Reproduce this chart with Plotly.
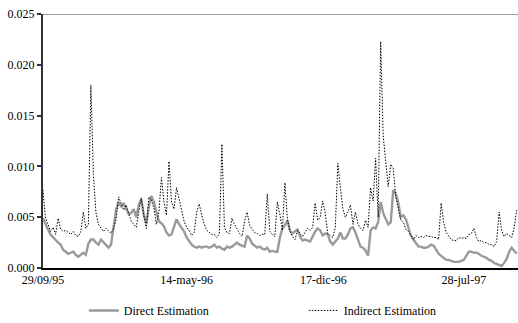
import pandas as pd
import plotly.graph_objects as go

# values in thousandths (x 0.001), sampled every 4 days from 29/09/1995
direct_k = [
    4.9, 4.3, 3.8, 3.3, 3.0, 2.8, 2.5, 2.3, 1.8, 1.6,
    1.4, 1.5, 1.6, 1.3, 1.1, 1.3, 1.5, 1.3, 2.4, 2.8,
    2.8, 2.5, 2.3, 2.8, 2.5, 2.2, 2.0, 2.3, 3.8, 5.7,
    6.5, 6.0, 6.4, 5.8, 5.3, 5.4, 5.8, 5.0, 6.2, 6.8,
    5.2, 4.4, 6.0, 7.1, 6.5, 5.5, 4.6, 4.4, 4.1, 3.5,
    3.2, 3.3, 4.0, 4.8, 4.3, 3.9, 3.6, 3.0, 2.6, 2.3,
    2.1, 2.0, 2.1, 2.0, 2.1, 2.1, 2.0, 2.1, 2.3, 2.0,
    2.1, 1.9, 1.8, 2.1, 2.0, 2.1, 2.3, 2.5, 2.3, 2.2,
    2.1, 3.2, 2.9, 2.4, 2.2, 2.0, 2.1, 1.9, 1.8, 2.0,
    1.6, 1.7, 1.6, 1.6, 3.0, 3.9, 4.2, 4.7, 3.7, 3.4,
    3.6, 3.8, 3.1, 2.7, 2.8, 2.7, 2.6, 3.1, 3.6, 3.9,
    3.7, 3.2, 3.4, 3.3, 2.6, 2.3, 2.6, 2.9, 3.5, 2.9,
    2.9, 3.3, 3.9, 4.0, 3.5, 2.8, 2.1, 2.0, 1.7, 1.2,
    3.7, 4.0, 3.9, 4.5, 6.5, 5.4, 4.9, 4.3, 4.5, 7.7,
    7.3, 6.4, 5.0, 5.2, 4.8, 4.0, 3.2, 2.8, 2.4, 2.1,
    2.1, 2.0, 2.0, 2.1, 2.3, 2.2, 1.8, 1.4, 1.2, 1.0,
    0.8, 0.8, 0.7, 0.6, 0.6, 0.6, 0.7, 0.8, 1.2, 1.6,
    1.6, 1.5, 1.5, 1.4, 1.2, 1.1, 1.0, 0.8, 0.7, 0.5,
    0.4, 0.3, 0.2, 0.5, 0.9, 1.6, 2.0, 1.7, 1.4,
]

indirect_k = [
    7.7, 4.9, 4.3, 3.6, 4.0, 3.3, 4.9, 3.8, 3.6, 3.7,
    3.5, 3.3, 3.6, 3.2, 3.1, 3.6, 5.5, 3.9, 4.3, 18.0,
    9.2, 5.5, 4.3, 4.0, 3.6, 3.9, 3.6, 3.4, 3.9, 4.8,
    7.0, 6.4, 5.7, 6.2, 5.3, 4.6, 4.3, 4.0, 5.5, 6.9,
    5.2, 3.9, 7.0, 6.7, 5.9, 4.3, 5.5, 8.9, 6.5, 5.2,
    10.5, 6.5, 5.8, 7.9, 6.8, 5.6, 4.6, 4.0, 3.7, 3.2,
    3.5, 5.5, 6.3, 5.2, 4.3, 3.7, 3.5, 3.3, 3.3, 3.0,
    3.4, 12.2, 4.0, 3.5, 3.4, 4.9, 4.3, 3.8, 3.4, 3.1,
    4.6, 5.5, 4.2, 3.8, 3.5, 3.4, 3.2, 3.3, 3.3, 7.3,
    3.6, 3.3, 3.1, 6.5, 5.3, 3.7, 8.4, 4.8, 3.6, 3.1,
    2.8, 3.7, 3.4, 3.1, 3.5, 3.9, 3.7, 4.0, 6.4, 4.7,
    5.0, 6.6, 5.4, 3.4, 3.2, 3.0, 4.0, 10.3, 7.9, 5.8,
    5.0, 5.5, 6.2, 4.3, 5.5, 4.3, 3.9, 3.7, 4.7, 4.0,
    7.9, 6.6, 10.8, 5.0, 22.3, 13.0, 10.5, 8.0, 10.2, 9.8,
    7.0, 6.0, 4.7, 4.5, 3.8, 3.6, 3.2, 2.8, 3.2, 3.0,
    3.1, 3.0, 3.2, 3.1, 3.1, 3.0, 3.0, 2.8, 6.4, 4.5,
    3.5, 3.1, 2.8, 2.7, 2.7, 3.0, 2.9, 3.0, 2.9, 3.3,
    3.4, 3.9, 3.0, 2.6, 2.7, 2.5, 2.5, 2.3, 2.3, 2.1,
    2.6, 5.5, 3.7, 3.1, 3.4, 3.2, 3.0, 4.0, 5.7,
]

tick_dates = ["1995-09-29", "1996-05-14", "1996-12-17", "1997-07-28"]
tick_labels = ["29/09/95", "14-may-96", "17-dic-96", "28-jul-97"]
y_ticks = [0.0, 0.005, 0.010, 0.015, 0.020, 0.025]

dates = pd.date_range("1995-09-29", periods=len(direct_k), freq="4D")
direct = [v / 1000 for v in direct_k]
indirect = [v / 1000 for v in indirect_k]

fig = go.Figure()
fig.add_trace(go.Scatter(
    x=dates, y=direct, mode="lines", name="Direct Estimation",
    line=dict(color="#9a9a9a", width=2.4), legend="legend",
))
fig.add_trace(go.Scatter(
    x=dates, y=indirect, mode="lines", name="Indirect Estimation",
    line=dict(color="#000000", width=1, dash="1.5px,1.5px"), legend="legend2",
))

font = dict(family="Liberation Serif, Times New Roman, serif", size=12, color="#000000")

leg_common = dict(
    orientation="h", xanchor="left", y=-0.11, yanchor="top",
    font=font, bgcolor="rgba(0,0,0,0)",
)

fig.update_layout(
    width=518, height=323,
    margin=dict(l=43, r=0, t=14, b=55, autoexpand=False),
    paper_bgcolor="white", plot_bgcolor="white",
    font=font,
    showlegend=True,
    legend=dict(x=0.086, **leg_common),
    legend2=dict(x=0.549, **leg_common),
    xaxis=dict(
        type="date",
        range=["1995-09-29", "1997-10-22"],
        tickvals=tick_dates, ticktext=tick_labels,
        showgrid=False, zeroline=False,
        showline=True, linecolor="#000000", linewidth=1.5,
        ticks="", tickfont=font,
    ),
    yaxis=dict(
        range=[0, 0.025],
        tickvals=y_ticks, tickformat=".3f",
        showgrid=False, zeroline=False,
        showline=True, linecolor="#333333", linewidth=2,
        ticks="outside", ticklen=4, tickcolor="#333333", tickwidth=1.5,
        tickfont=font,
    ),
    shapes=[dict(
        type="line", xref="paper", yref="y", x0=0, x1=1, y0=0.025, y1=0.025,
        line=dict(color="#808080", width=1.5),
    )],
)

fig.write_html("out.html")
